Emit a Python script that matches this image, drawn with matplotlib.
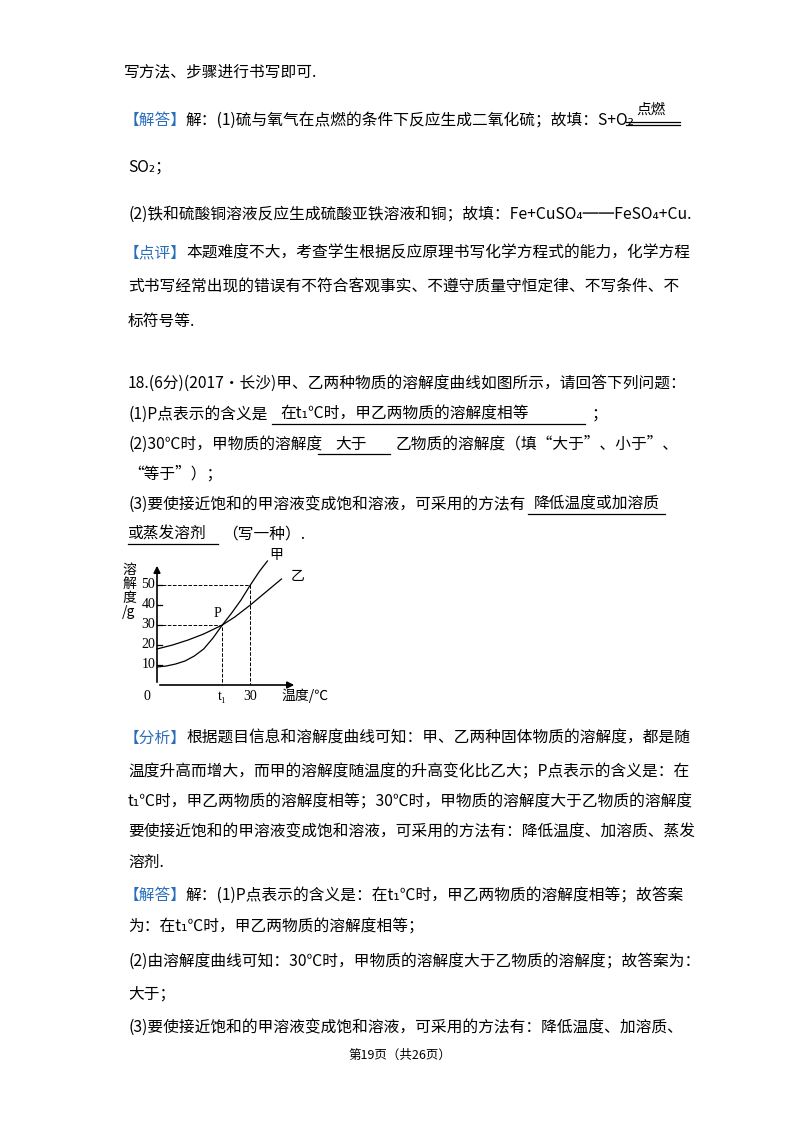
import matplotlib
matplotlib.use('Agg')
import matplotlib.pyplot as plt
from matplotlib.lines import Line2D

plt.rcParams['font.family'] = ['Noto Sans CJK SC', 'DejaVu Sans']
W, H = 800, 1132
fig = plt.figure(figsize=(8, 11.32), dpi=100)
BLUE = '#2a6ebb'
FS = 11.3

def T(x, y, s, color='black', size=FS, **kw):
    fig.text(x / W, 1 - y / H, s, color=color, fontsize=size, va='center', ha=kw.pop('ha', 'left'), **kw)

def L(x0, x1, y, lw=0.9):
    fig.add_artist(Line2D([x0 / W, x1 / W], [1 - y / H, 1 - y / H], color='black', lw=lw))

T(124, 72, '写方法、步骤进行书写即可.')
T(124, 120, '【解答】', BLUE)
T(186, 120, '解：(1)硫与氧气在点燃的条件下反应生成二氧化硫；故填：S+O₂')
T(636, 110, '点燃', size=10.5)
L(626, 680, 122); L(626, 680, 125)
T(128, 167, 'SO₂；')
T(128, 214, '(2)铁和硫酸铜溶液反应生成硫酸亚铁溶液和铜；故填：Fe+CuSO₄══FeSO₄+Cu.')
T(124, 253, '【点评】', BLUE)
T(186, 253, '本题难度不大，考查学生根据反应原理书写化学方程式的能力，化学方程')
T(128, 287, '式书写经常出现的错误有不符合客观事实、不遵守质量守恒定律、不写条件、不')
T(128, 321, '标符号等.')

T(128, 383, '18.(6分)(2017•长沙)甲、乙两种物质的溶解度曲线如图所示，请回答下列问题：')
T(128, 414, '(1)P点表示的含义是')
T(280, 414, '在t₁℃时，甲乙两物质的溶解度相等')
L(272, 585, 424)
T(592, 414, '；')
T(128, 444, '(2)30℃时，甲物质的溶解度')
T(335, 444, '大于')
L(318, 390, 454)
T(396, 444, '乙物质的溶解度（填“大于”、小于”、')
T(128, 474, '“等于”）；')
T(128, 504, '(3)要使接近饱和的甲溶液变成饱和溶液，可采用的方法有')
T(534, 504, '降低温度或加溶质')
L(528, 665, 514)
T(128, 534, '或蒸发溶剂')
L(128, 218, 544)
T(222, 534, '（写一种）.')

# chart data
t_jia = [0, 3, 6, 9, 12, 15, 18, 21, 24, 27, 30, 33, 35.5]
s_jia = [9, 9.5, 10.5, 12, 14.5, 18, 23.5, 30, 36, 42.5, 50, 57, 62]
t_yi = [0, 5, 10, 15, 21, 25, 30, 35, 40]
s_yi = [18, 20, 22.5, 25.5, 30, 34, 40, 46.5, 53]
yticks = [10, 20, 30, 40, 50]
t1 = 21

x0p, y0p = 157, 685
xmax, ymax = 45, 61
ax = fig.add_axes([x0p / W, 1 - y0p / H, (297 - x0p) / W, (y0p - 563) / H])
ax.set_xlim(0, xmax); ax.set_ylim(0, ymax)
ax.patch.set_alpha(0)
for s in ax.spines.values():
    s.set_visible(False)
ax.set_xticks([]); ax.set_yticks([])
ax.annotate('', xy=(xmax, 0), xytext=(0, 0), arrowprops=dict(arrowstyle='-|>', color='black', lw=1.2), annotation_clip=False)
ax.annotate('', xy=(0, ymax), xytext=(0, 0), arrowprops=dict(arrowstyle='-|>', color='black', lw=1.2), annotation_clip=False)
ax.plot(t_jia, s_jia, color='black', lw=0.9, clip_on=False)
ax.plot(t_yi, s_yi, color='black', lw=0.9, clip_on=False)
for v in yticks:
    ax.plot([0, 1.5], [v, v], color='black', lw=0.9)
    ax.text(-0.6, v, str(v), ha='right', va='center', fontsize=10, family=['Liberation Serif', 'DejaVu Serif'])
ax.plot([0, t1, t1], [30, 30, 0], ls='--', color='black', lw=0.7)
ax.plot([0, 30, 30], [50, 50, 0], ls='--', color='black', lw=0.7)
ax.text(t1, -2.5, 't₁', ha='center', va='top', fontsize=10, family=['Liberation Serif', 'DejaVu Serif'])
ax.text(30, -2.5, '30', ha='center', va='top', fontsize=10, family=['Liberation Serif', 'DejaVu Serif'])
ax.text(-2, -2.5, '0', ha='right', va='top', fontsize=10, family=['Liberation Serif', 'DejaVu Serif'])
ax.text(t1 - 1.5, 32.5, 'P', ha='center', va='bottom', fontsize=10, family=['Liberation Serif', 'DejaVu Serif'])
ax.text(36, 65, '甲', fontsize=10, va='center')
ax.text(43, 54.5, '乙', fontsize=10, va='center')
ax.text(40, -5.5, '温度/℃', fontsize=10, va='center')
ax.text(-9, 47, '溶\n解\n度\n/g', fontsize=10, va='center', ha='center', linespacing=1.0)

T(124, 738, '【分析】', BLUE)
T(186, 738, '根据题目信息和溶解度曲线可知：甲、乙两种固体物质的溶解度，都是随')
T(128, 772, '温度升高而增大，而甲的溶解度随温度的升高变化比乙大；P点表示的含义是：在')
T(128, 802, 't₁℃时，甲乙两物质的溶解度相等；30℃时，甲物质的溶解度大于乙物质的溶解度')
T(128, 832, '要使接近饱和的甲溶液变成饱和溶液，可采用的方法有：降低温度、加溶质、蒸发')
T(128, 862, '溶剂.')
T(124, 895, '【解答】', BLUE)
T(186, 895, '解：(1)P点表示的含义是：在t₁℃时，甲乙两物质的溶解度相等；故答案')
T(128, 927, '为：在t₁℃时，甲乙两物质的溶解度相等；')
T(128, 961, '(2)由溶解度曲线可知：30℃时，甲物质的溶解度大于乙物质的溶解度；故答案为：')
T(128, 994, '大于；')
T(128, 1027, '(3)要使接近饱和的甲溶液变成饱和溶液，可采用的方法有：降低温度、加溶质、')
T(400, 1055, '第19页（共26页）', size=9, ha='center')

fig.savefig('out.png', dpi=100)
